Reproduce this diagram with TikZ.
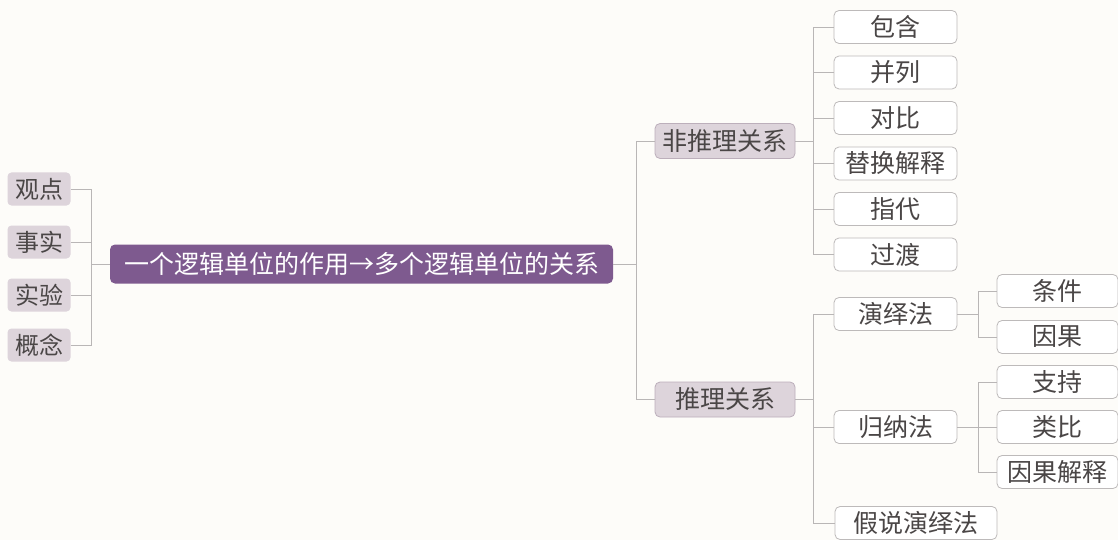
\documentclass[tikz,border=0pt]{standalone}
\usepackage{fontspec}
\newfontfamily\cjk{Noto Sans CJK SC}
\definecolor{bgc}{HTML}{FDFCF9}
\definecolor{linec}{HTML}{B9B6B6}
\definecolor{greyfill}{HTML}{DDD4DB}
\definecolor{greyline}{HTML}{BCAFBB}
\definecolor{purp}{HTML}{7E5A8F}
\definecolor{txt}{HTML}{4A4646}
\definecolor{boxline}{HTML}{BDBABA}
\tikzset{
  conn/.style={draw=linec, line width=0.8pt},
  leftbox/.style={fill=greyfill, draw=none, rounded corners=4pt, minimum width=63pt, minimum height=33pt, inner sep=0pt, text=txt, font=\cjk\fontsize{24}{24}\selectfont},
  mainbox/.style={fill=purp, draw=none, rounded corners=5pt, minimum width=503pt, minimum height=39pt, inner sep=0pt, text=white, font=\cjk\fontsize{25}{25}\selectfont},
  midbox/.style={fill=greyfill, draw=greyline, line width=0.8pt, rounded corners=5pt, minimum width=140pt, minimum height=35pt, inner sep=0pt, text=txt, font=\cjk\fontsize{25}{25}\selectfont},
  leafbox/.style={fill=white, draw=boxline, line width=0.8pt, rounded corners=5pt, minimum width=123pt, minimum height=33pt, inner sep=0pt, text=txt, font=\cjk\fontsize{25}{25}\selectfont},
  leaf2box/.style={leafbox, minimum width=121pt},
}
\begin{document}
\begin{tikzpicture}[x=1pt,y=-1pt]
\fill[bgc] (0,0) rectangle (1118,540);
\useasboundingbox (0,0) rectangle (1118,540);

% left
\node[leftbox] (guan) at (39,189) {观点};
\node[leftbox] (shi) at (39,242) {事实};
\node[leftbox] (yan) at (39,295) {实验};
\node[leftbox] (gai) at (39,345) {概念};
\node[mainbox] (main) at (361.5,264) {一个逻辑单位的作用→多个逻辑单位的关系};
\coordinate (jL) at (91,264);
\draw[conn] (main.west) -- (jL);
\foreach \n in {guan,shi,yan,gai} \draw[conn] (\n.east) -| (jL);

% middle
\node[midbox] (fei) at (725,141) {非推理关系};
\node[midbox] (tui) at (725,399.5) {推理关系};
\coordinate (jM) at (636,264);
\draw[conn] (main.east) -- (jM);
\draw[conn] (jM) |- (fei.west);
\draw[conn] (jM) |- (tui.west);

% non-inference children
\node[leafbox] (baohan) at (895.5,27) {包含};
\node[leafbox] (binglie) at (895.5,72.5) {并列};
\node[leafbox] (duibi) at (895.5,118) {对比};
\node[leafbox] (tihuan) at (895.5,163.5) {替换解释};
\node[leafbox] (zhidai) at (895.5,209) {指代};
\node[leafbox] (guodu) at (895.5,254.5) {过渡};
\coordinate (jA) at (813,141);
\draw[conn] (fei.east) -- (jA);
\foreach \n in {baohan,binglie,duibi,tihuan,zhidai,guodu} \draw[conn] (jA) |- (\n.west);

% inference children
\node[leafbox] (yanyi) at (895.5,314) {演绎法};
\node[leafbox] (guina) at (895.5,427) {归纳法};
\node[leafbox, minimum width=162pt] (jiashuo) at (916,523) {假说演绎法};
\coordinate (jB) at (813,399.5);
\draw[conn] (tui.east) -- (jB);
\foreach \n in {yanyi,guina,jiashuo} \draw[conn] (jB) |- (\n.west);

% grandchildren
\node[leaf2box] (tiaojian) at (1057.5,291) {条件};
\node[leaf2box] (yinguo) at (1057.5,337) {因果};
\node[leaf2box] (zhichi) at (1057.5,382) {支持};
\node[leaf2box] (leibi) at (1057.5,427) {类比};
\node[leaf2box] (yinguojs) at (1057.5,472) {因果解释};
\coordinate (jC) at (978,314);
\coordinate (jD) at (978,427);
\draw[conn] (yanyi.east) -- (jC);
\foreach \n in {tiaojian,yinguo} \draw[conn] (jC) |- (\n.west);
\draw[conn] (guina.east) -- (jD);
\foreach \n in {zhichi,leibi,yinguojs} \draw[conn] (jD) |- (\n.west);
\end{tikzpicture}
\end{document}
